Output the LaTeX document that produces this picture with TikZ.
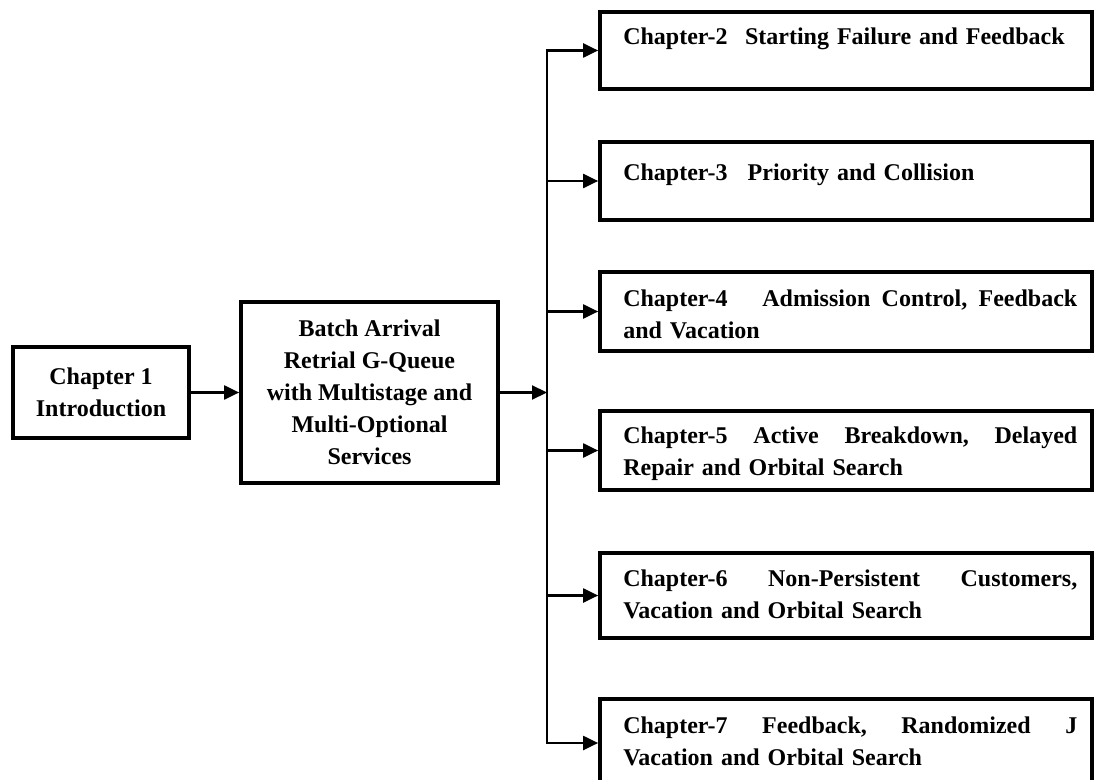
\documentclass[tikz,border=0pt]{standalone}
\usepackage{fontspec}
\setmainfont{Liberation Serif}
\usetikzlibrary{arrows.meta}
\begin{document}
\begin{tikzpicture}[x=0.75pt,y=-0.75pt,
  box/.style={draw, line width=2.8pt, inner sep=0pt, rectangle},
  conn/.style={line width=1.6pt},
  arr/.style={conn, -{Triangle[length=11.25pt,width=10.5pt]}},
  bigfont/.style={font=\fontsize{18}{24}\selectfont\bfseries},
  mtext/.style={bigfont, align=center},
  ctext/.style={bigfont, anchor=base west, inner sep=0pt, text width=340.5pt, align=left},
  chbox/.style={box, minimum width=369pt}
]
\useasboundingbox (0,0) rectangle (1094,780);

% left boxes
\node[box, mtext, minimum width=132pt, minimum height=68.25pt] (ch1) at (101,392.5) {Chapter 1\\Introduction};
\node[box, mtext, minimum width=192.75pt, minimum height=135.75pt] (main) at (369.5,392.5)
  {Batch Arrival\\Retrial G-Queue\\with Multistage and\\Multi-Optional\\Services};

% chapter boxes
\node[chbox, minimum height=57.75pt] (c2) at (846,50.5) {};
\node[chbox, minimum height=58.5pt]  (c3) at (846,181) {};
\node[chbox, minimum height=59.25pt] (c4) at (846,311.5) {};
\node[chbox, minimum height=59.25pt] (c5) at (846,450.5) {};
\node[chbox, minimum height=63.75pt] (c6) at (846,595.5) {};
\node[chbox, minimum height=66pt]    (c7) at (846,743) {};

% chapter texts
\node[ctext] (t2) at (623,45) {Chapter-2\hspace{7pt} Starting Failure and Feedback};
\node[ctext] (t3) at (623,181) {Chapter-3\hspace{9pt} Priority and Collision};
\node[ctext] (t4) at (623,306) {Chapter-4\hspace{0pt plus 4fill} Admission\hspace{0pt plus .5fill} Control,\hspace{0pt plus .5fill} Feedback\\and Vacation};
\node[ctext] (t5) at (623,443) {Chapter-5\hfill Active\hfill Breakdown,\hfill Delayed\\Repair and Orbital Search};
\node[ctext] (t6) at (623,586) {Chapter-6\hfill Non-Persistent\hfill Customers,\\Vacation and Orbital Search};
\node[ctext] (t7) at (623,733) {Chapter-7\hfill Feedback,\hfill Randomized\hfill J\\Vacation and Orbital Search};

% connectors
\coordinate (bus) at (547,0);
\draw[arr] (ch1.east) -- (main.west);
\draw[arr] (main.east) -- (main.east -| bus);
\draw[conn, line cap=rect] (bus |- c2.west) -- (bus |- c7.west);
\foreach \c in {c2,c3,c4,c5,c6,c7}
  \draw[arr] (bus |- \c.west) -- (\c.west);
\end{tikzpicture}
\end{document}
